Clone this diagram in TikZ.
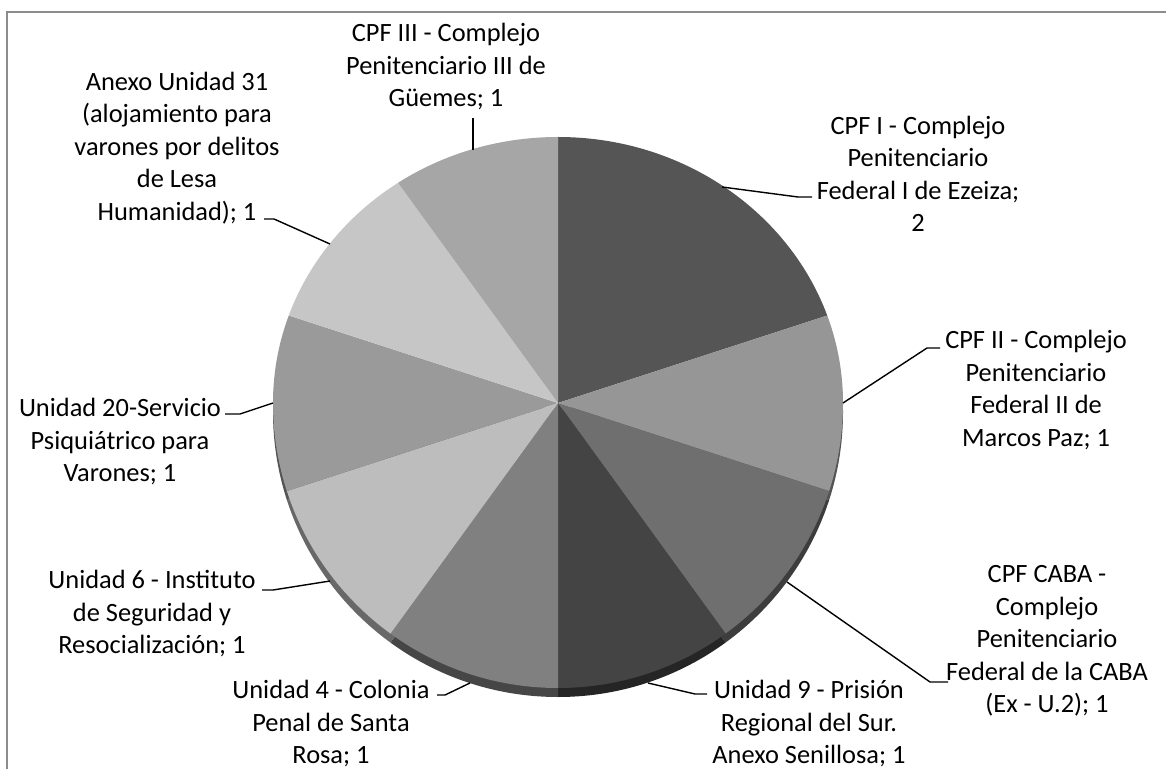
\documentclass[tikz,border=0pt]{standalone}
\usepackage{fontspec}
\setmainfont{Carlito}
\usepackage{tikz}
\usetikzlibrary{calc}
\definecolor{cpfonegray}{HTML}{555555}
\definecolor{cpftwogray}{HTML}{969696}
\definecolor{cabagray}{HTML}{6F6F6F}
\definecolor{ninegray}{HTML}{444444}
\definecolor{fourgray}{HTML}{808080}
\definecolor{sixgray}{HTML}{BDBDBD}
\definecolor{twentygray}{HTML}{9A9A9A}
\definecolor{anexogray}{HTML}{C6C6C6}
\definecolor{cpfthreegray}{HTML}{A6A6A6}
\definecolor{framegray}{HTML}{8C8C8C}
\tikzstyle{slicelabel} = [align=center, inner sep=0pt, font=\fontsize{13.2}{16.25}\selectfont]
\tikzstyle{leaderline} = [line width=0.7pt, black]

\begin{document}
\begin{tikzpicture}[x=0.5pt, y=-0.5pt]
\useasboundingbox (0,0) rectangle (1166,769);
\draw[framegray, line width=0.75pt] (7,790) -- (7,12) -- (1190,12);

\coordinate (apex) at (558,403);
\coordinate (rimapex) at (558,412);

\begin{scope}
\clip (273,412) arc[start angle=180, end angle=360, x radius=285, y radius=266]
  arc[start angle=0, end angle=180, radius=285] -- cycle;
\fill[cpftwogray!55!black] (rimapex) -- ++(-18:400) arc[start angle=-18, end angle=18, radius=400] -- cycle;
\fill[cabagray!55!black] (rimapex) -- ++(18:400) arc[start angle=18, end angle=54, radius=400] -- cycle;
\fill[ninegray!55!black] (rimapex) -- ++(54:400) arc[start angle=54, end angle=90, radius=400] -- cycle;
\fill[fourgray!55!black] (rimapex) -- ++(90:400) arc[start angle=90, end angle=126, radius=400] -- cycle;
\fill[sixgray!55!black] (rimapex) -- ++(126:400) arc[start angle=126, end angle=162, radius=400] -- cycle;
\fill[twentygray!55!black] (rimapex) -- ++(162:400) arc[start angle=162, end angle=198, radius=400] -- cycle;
\end{scope}

\begin{scope}
\clip (273,403) arc[start angle=180, end angle=360, x radius=285, y radius=266]
  arc[start angle=0, end angle=180, radius=285] -- cycle;
\fill[cpfonegray] (apex) -- ++(-90:400) arc[start angle=-90, end angle=-18, radius=400] -- cycle;
\fill[cpftwogray] (apex) -- ++(-18:400) arc[start angle=-18, end angle=18, radius=400] -- cycle;
\fill[cabagray] (apex) -- ++(18:400) arc[start angle=18, end angle=54, radius=400] -- cycle;
\fill[ninegray] (apex) -- ++(54:400) arc[start angle=54, end angle=90, radius=400] -- cycle;
\fill[fourgray] (apex) -- ++(90:400) arc[start angle=90, end angle=126, radius=400] -- cycle;
\fill[sixgray] (apex) -- ++(126:400) arc[start angle=126, end angle=162, radius=400] -- cycle;
\fill[twentygray] (apex) -- ++(162:400) arc[start angle=162, end angle=198, radius=400] -- cycle;
\fill[anexogray] (apex) -- ++(198:400) arc[start angle=198, end angle=234, radius=400] -- cycle;
\fill[cpfthreegray] (apex) -- ++(234:400) arc[start angle=234, end angle=270, radius=400] -- cycle;
\end{scope}

\node[slicelabel] (cpfone) at (918,174) {CPF I - Complejo\\Penitenciario\\Federal I de Ezeiza;\\2};
\node[slicelabel] (cpftwo) at (1036,390) {CPF II - Complejo\\Penitenciario\\Federal II de\\Marcos Paz; 1};
\node[slicelabel] (cpfcaba) at (1047,641) {CPF CABA -\\Complejo\\Penitenciario\\Federal de la CABA\\(Ex - U.2); 1};
\node[slicelabel] (unidadnine) at (809,724) {Unidad 9 - Prisión\\Regional del Sur.\\Anexo Senillosa; 1};
\node[slicelabel] (unidadfour) at (331,724) {Unidad 4 - Colonia\\Penal de Santa\\Rosa; 1};
\node[slicelabel] (unidadsix) at (152,614) {Unidad 6 - Instituto\\de Seguridad y\\Resocialización; 1};
\node[slicelabel] (unidadtwenty) at (120,442) {Unidad 20-Servicio\\Psiquiátrico para\\Varones; 1};
\node[slicelabel] (anexo) at (177,148) {Anexo Unidad 31\\(alojamiento para\\varones por delitos\\de Lesa\\Humanidad); 1};
\node[slicelabel] (cpfthree) at (446,67) {CPF III - Complejo\\Penitenciario III de\\Güemes; 1};

\coordinate (cpfoneedge) at (722,187);
\coordinate (cpftwoedge) at (843,403);
\coordinate (cabaedge) at (787,582);
\coordinate (nineedge) at (648,683);
\coordinate (fouredge) at (470,683);
\coordinate (sixedge) at (330,581);
\coordinate (twentyedge) at (273,403);
\coordinate (anexoedge) at (330,244);
\coordinate (cpfthreeedge) at (473,150);

\draw[leaderline] ($(cpfone)+(-106,23)$) -- ++(-14,0) -- (cpfoneedge);
\draw[leaderline] ($(cpftwo)+(-96,-42)$) -- ++(-13,0) -- (cpftwoedge);
\draw[leaderline] ($(cpfcaba)+(-99,41)$) -- ++(-18,0) -- (cabaedge);
\draw[leaderline] ($(unidadnine)+(-102,-30)$) -- ++(-12,0) -- (nineedge);
\draw[leaderline] ($(unidadfour)+(106,-29)$) -- ++(8,0) -- (fouredge);
\draw[leaderline] ($(unidadsix)+(110,-24)$) -- ++(11,0) -- (sixedge);
\draw[leaderline] ($(unidadtwenty)+(105,-28)$) -- ++(15,0) -- (twentyedge);
\draw[leaderline] ($(anexo)+(87,71)$) -- ++(10,0) -- (anexoedge);
\draw[leaderline] ($(cpfthree)+(27,51)$) -- (cpfthreeedge);
\end{tikzpicture}
\end{document}
